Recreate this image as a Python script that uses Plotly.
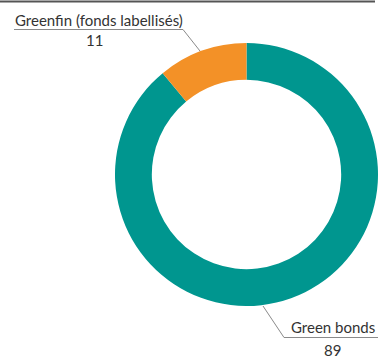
import plotly.graph_objects as go

# Données
categories = ['Green bonds', 'Greenfin (fonds labellisés)']
valeurs = [89, 11]
couleurs = ['#00968F', '#F39127']

W, H = 378, 359


def px(x):
    return x / W


def py(y):
    return 1 - y / H


fig = go.Figure()

fig.add_trace(go.Pie(
    labels=categories,
    values=valeurs,
    hole=0.72,
    sort=False,
    direction='clockwise',
    rotation=0,
    textinfo='none',
    marker=dict(colors=couleurs, line=dict(width=0)),
    domain=dict(x=[px(115), px(378)], y=[py(306), py(43)]),
    showlegend=False,
    hovertemplate='<b>%{label}</b><br>%{value}<extra></extra>'
))

police = dict(family='Lato, sans-serif', size=15, color='#333333')

annotations = [
    dict(x=px(99), y=py(20), text=categories[1]),
    dict(x=px(94), y=py(40), text=str(valeurs[1])),
    dict(x=px(333), y=py(327), text=categories[0]),
    dict(x=px(332), y=py(350), text=str(valeurs[0])),
]
for a in annotations:
    a.update(xref='paper', yref='paper', showarrow=False,
             xanchor='center', yanchor='middle', font=police)

ligne = dict(color='#8a8a8a', width=1)
shapes = [
    # filet du haut
    dict(type='line', xref='paper', yref='paper',
         x0=0, x1=px(375), y0=py(1.5), y1=py(1.5),
         line=dict(color='#555555', width=2)),
    # repère Greenfin
    dict(type='path', xref='paper', yref='paper', line=ligne,
         path=f'M {px(14)} {py(29.5)} L {px(183)} {py(29.5)} L {px(200)} {py(51)}'),
    # repère Green bonds
    dict(type='path', xref='paper', yref='paper', line=ligne,
         path=f'M {px(263)} {py(306)} L {px(284)} {py(337.5)} L {px(378)} {py(337.5)}'),
]

fig.update_layout(
    width=W,
    height=H,
    margin=dict(l=0, r=0, t=0, b=0),
    paper_bgcolor='white',
    plot_bgcolor='white',
    annotations=annotations,
    shapes=shapes,
)

fig.write_html("out.html", config={'displayModeBar': False},
               post_script="document.body.style.margin='0';")
